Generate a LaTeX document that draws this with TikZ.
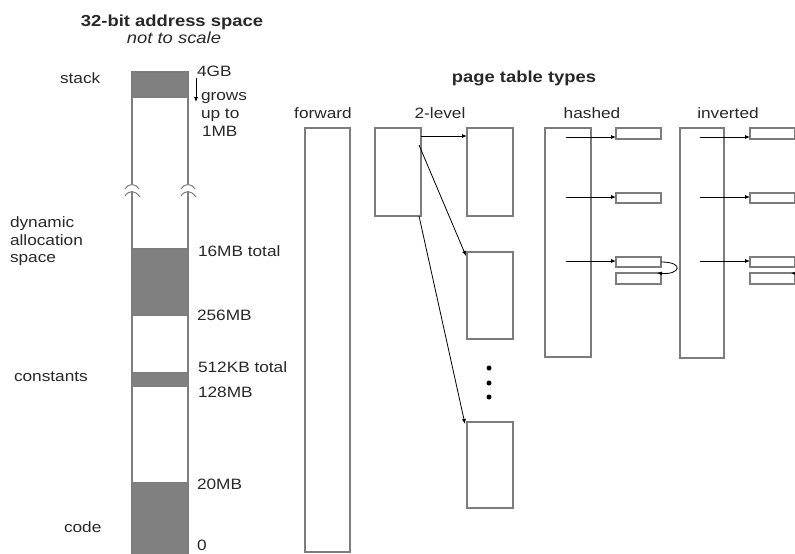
\documentclass[tikz,border=0pt]{standalone}
\usepackage{fontspec}
\setmainfont[FakeStretch=1.15]{Liberation Sans}
\usetikzlibrary{arrows.meta,calc}
\definecolor{ln}{RGB}{125,125,125}
\definecolor{gr}{RGB}{128,128,128}
\definecolor{txt}{RGB}{40,40,40}
\tikzset{
  lbl/.style={inner sep=0pt, outer sep=0pt, text=txt, font=\fontsize{15}{17}\selectfont},
  ttl/.style={inner sep=0pt, outer sep=0pt, text=txt, font=\bfseries\fontsize{16}{18}\selectfont},
  itl/.style={inner sep=0pt, outer sep=0pt, text=txt, font=\itshape\fontsize{16}{18}\selectfont},
  box/.style={draw=ln, line width=1.1pt, inner sep=0pt, outer sep=0pt, anchor=north west, rectangle},
  arr/.style={draw=black, line width=0.8pt, -{Latex[length=5pt,width=4pt]}},
  seg/.style={fill=gr, draw=ln, line width=1.1pt},
  dot/.style={circle, fill=black, inner sep=0pt, minimum size=5pt}
}
\begin{document}
\begin{tikzpicture}[x=1pt,y=-1pt]
\useasboundingbox (0,0) rectangle (795,554);
\clip (0,0) rectangle (795,554);
\fill[white] (0,0) rectangle (795,554);

% ---- address space column ----
\node[ttl, anchor=base] (title) at (172,27) {32-bit address space};
\node[itl, anchor=base] (nts) at (174,43) {not to scale};

\fill[seg] (132,72) rectangle (188,97);
\fill[seg] (132,249) rectangle (188,315);
\fill[seg] (132,373) rectangle (188,386);
\fill[seg] (132,483) rectangle (188,562);
\node[box, minimum width=56pt, minimum height=490pt] (col) at (132,72) {};
\draw[seg] (132,72) rectangle (188,97);
\draw[seg] (132,249) rectangle (188,315);
\draw[seg] (132,373) rectangle (188,386);
\draw[seg] (132,483) rectangle (188,562);

% break marks
\foreach \xx in {132,188}{
  \fill[white] (\xx-2,184.5) rectangle (\xx+2,191);
  \draw[ln, line width=1pt] (\xx-7,189) .. controls (\xx-3,183) and (\xx+3,183) .. (\xx+7,189);
  \draw[ln, line width=1pt] (\xx-7,196) .. controls (\xx-3,190) and (\xx+3,190) .. (\xx+8,197);
}

% left labels
\node[lbl, anchor=base west] (stack) at (60,83) {stack};
\node[lbl, anchor=base west] (dyn1) at (10,227) {dynamic};
\node[lbl, anchor=base west] (dyn2) at (10,245) {allocation};
\node[lbl, anchor=base west] (dyn3) at (10,262) {space};
\node[lbl, anchor=base west] (const) at (14,381) {constants};
\node[lbl, anchor=base west] (code) at (64,532) {code};

% right labels
\node[lbl, anchor=base west] (g4) at (197,76) {4GB};
\coordinate (gs) at (196,78);
\coordinate (ge) at (196,102);
\draw[arr] (gs) -- (ge);
\node[lbl, anchor=base west] (gr1) at (201,100) {grows};
\node[lbl, anchor=base west] (gr2) at (201,118) {up to};
\node[lbl, anchor=base west] (gr3) at (202,136) {1MB};
\node[lbl, anchor=base west] (m16) at (198,256) {16MB total};
\node[lbl, anchor=base west] (m256) at (197,320) {256MB};
\node[lbl, anchor=base west] (k512) at (198,372) {512KB total};
\node[lbl, anchor=base west] (m128) at (198,397) {128MB};
\node[lbl, anchor=base west] (m20) at (197,489) {20MB};
\node[lbl, anchor=base west] (z0) at (197,550.5) {0};

% ---- page table types ----
\node[ttl, anchor=base] (ptt) at (524,82) {page table types};
\node[lbl, anchor=base] (hfw) at (323,118) {forward};
\node[lbl, anchor=base] (h2l) at (440,118) {2-level};
\node[lbl, anchor=base] (hha) at (592,118) {hashed};
\node[lbl, anchor=base] (hin) at (728,118) {inverted};

% forward
\node[box, minimum width=45pt, minimum height=424pt] (fw) at (305,128) {};

% 2-level
\node[box, minimum width=46pt, minimum height=88pt] (l1) at (375,128) {};
\node[box, minimum width=46pt, minimum height=88pt] (l2a) at (467,128) {};
\node[box, minimum width=46pt, minimum height=87pt] (l2b) at (467,252) {};
\node[box, minimum width=46pt, minimum height=86pt] (l2c) at (467,422) {};
\draw[arr] ([yshift=-8pt]l1.north east) -- ([yshift=-8pt]l2a.north west);
\draw[arr] ([xshift=-2pt,yshift=-17pt]l1.north east) -- ([xshift=-1pt,yshift=-4pt]l2b.north west);
\draw[arr] ([xshift=-2pt]l1.south east) -- ([xshift=-2pt,yshift=-2pt]l2c.north west);
\node[dot] (d1) at (489,368) {};
\node[dot] (d2) at (489,383) {};
\node[dot] (d3) at (489,397) {};

% hashed
\node[box, minimum width=46pt, minimum height=229pt] (hb) at (545,128) {};
\node[box, minimum width=45pt, minimum height=11pt] (h1) at (616,128) {};
\node[box, minimum width=45pt, minimum height=10pt] (h2) at (616,193) {};
\node[box, minimum width=45pt, minimum height=10pt] (h3) at (616,257) {};
\node[box, minimum width=45pt, minimum height=11pt] (h4) at (616,273) {};
\coordinate (hs1) at (566,137);
\coordinate (hs2) at (566,197);
\coordinate (hs3) at (566,261);
\draw[arr] (hs1) -- (hs1 -| h1.west);
\draw[arr] (hs2) -- (hs2 -| h2.west);
\draw[arr] (hs3) -- (hs3 -| h3.west);
\draw[arr] (h3.east) .. controls +(24,0) and +(23,2) .. ([xshift=-4pt]h4.north east);

% inverted
\node[box, minimum width=44pt, minimum height=230pt] (ib) at (680,128) {};
\node[box, minimum width=45pt, minimum height=11pt] (i1) at (750,128) {};
\node[box, minimum width=45pt, minimum height=10pt] (i2) at (750,193) {};
\node[box, minimum width=45pt, minimum height=10pt] (i3) at (750,257) {};
\node[box, minimum width=45pt, minimum height=11pt] (i4) at (750,273) {};
\coordinate (is1) at (700,137);
\coordinate (is2) at (700,197);
\coordinate (is3) at (700,261);
\draw[arr] (is1) -- (is1 -| i1.west);
\draw[arr] (is2) -- (is2 -| i2.west);
\draw[arr] (is3) -- (is3 -| i3.west);
\draw[arr] (i3.east) .. controls +(24,0) and +(23,2) .. ([xshift=-4pt]i4.north east);
\end{tikzpicture}
\end{document}
